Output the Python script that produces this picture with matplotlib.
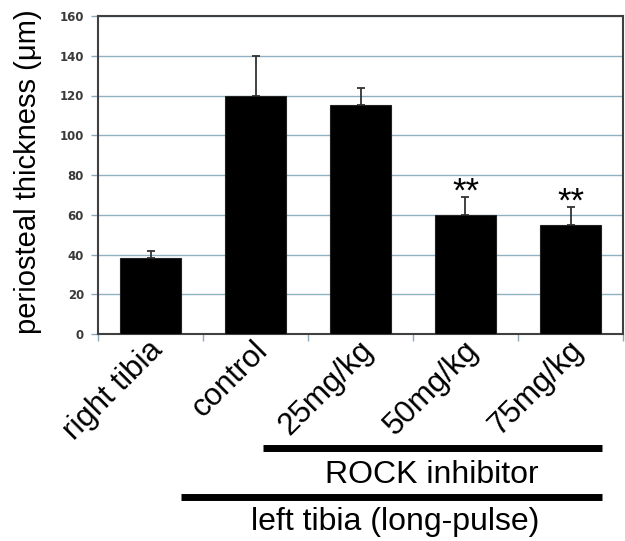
import matplotlib
matplotlib.use("Agg")
import matplotlib.pyplot as plt
import matplotlib.transforms as mtransforms

# data
groups = ["right tibia", "control", "25mg/kg", "50mg/kg", "75mg/kg"]
thickness = [38, 120, 115, 60, 55]
sem = [4, 20, 9, 9, 9]
signif = ["", "", "", "**", "**"]
yticks = [0, 20, 40, 60, 80, 100, 120, 140, 160]

plt.rcParams['font.family'] = ['Liberation Sans', 'DejaVu Sans']

fig = plt.figure(figsize=(6.25, 5.41), dpi=100)
ax = fig.add_axes([98 / 625, 1 - 334 / 541, 525 / 625, 318 / 541])

x = list(range(len(groups)))
ax.bar(x, thickness, width=0.58, color="black", edgecolor="#222222", linewidth=0.8, zorder=3)
ax.errorbar(x, thickness, yerr=[[0] * len(sem), sem], fmt="none", ecolor="#333333",
            elinewidth=1.3, capsize=3, capthick=1.3, zorder=2)

for xi, yi, e, s in zip(x, thickness, sem, signif):
    if s:
        ax.text(xi, yi + e - 2.5, s, ha="center", va="baseline", fontsize=25, color="black")

ax.set_xlim(-0.5, len(groups) - 0.5)
ax.set_ylim(0, 160)
ax.set_yticks(yticks)
ax.set_yticklabels([str(v) for v in yticks], fontsize=8.5, fontweight="bold",
                   color="#3a3a3a", family="DejaVu Sans")
ax.yaxis.grid(True, color="#8fb2c2", linewidth=1.0, zorder=0)
ax.set_axisbelow(True)

# category labels between boundary ticks
ax.set_xticks([i + 0.5 for i in range(-1, len(groups))], minor=False)
ax.set_xticklabels([])
ax.tick_params(axis="x", which="major", direction="out", length=5, color="#8fa8b8", width=1)
ax.tick_params(axis="y", direction="out", length=5, color="#8fa8b8", width=1, pad=5)

offset = mtransforms.ScaledTranslation(8 / 100, -12 / 100, fig.dpi_scale_trans)
for xi, g in zip(x, groups):
    ax.text(xi, 0, g, rotation=45, ha="right", va="center", rotation_mode="anchor",
            fontsize=22.5, transform=ax.get_xaxis_transform() + offset)

for sp in ax.spines.values():
    sp.set_color("#404040")
    sp.set_linewidth(1.5)

# group bars below the axis
trans = ax.get_xaxis_transform()
ax.plot([1.07, 4.3], [-0.358, -0.358], color="black", lw=5, transform=trans,
        clip_on=False, solid_capstyle="butt")
ax.text(2.68, -0.443, "ROCK inhibitor", ha="center", va="center", fontsize=23,
        transform=trans)
ax.plot([0.29, 4.3], [-0.513, -0.513], color="black", lw=5, transform=trans,
        clip_on=False, solid_capstyle="butt")
ax.text(2.33, -0.591, "left tibia (long-pulse)", ha="center", va="center", fontsize=23,
        transform=trans)

fig.text(28 / 625, 1 - 172 / 541, "periosteal thickness (\u03bcm)", rotation=90,
         ha="center", va="center", fontsize=21)

fig.savefig("out.png", dpi=100)
